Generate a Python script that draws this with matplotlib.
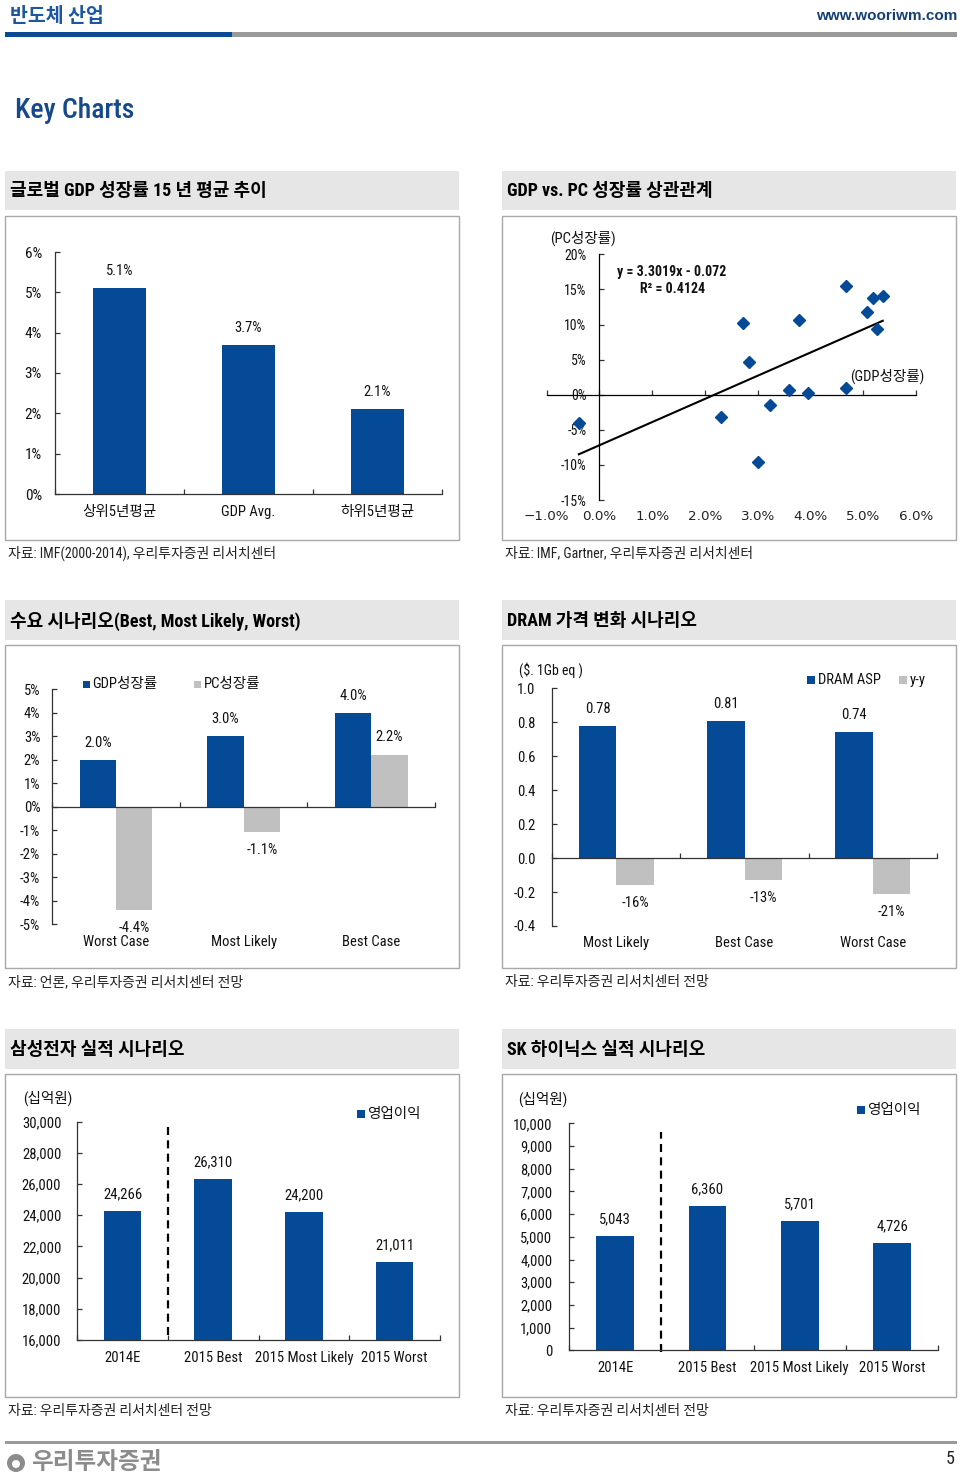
import matplotlib
matplotlib.use('Agg')
import matplotlib.pyplot as plt
from matplotlib import font_manager as fm
from matplotlib.patches import Rectangle, Circle
import numpy as np

# ---------------- data ----------------
gdp_cats = ['상위5년평균', 'GDP Avg.', '하위5년평균']
gdp_vals = [5.1, 3.7, 2.1]

scatter_gdp = [-0.39, 2.31, 2.72, 2.84, 3.01, 3.23, 3.60, 3.78, 3.96, 4.67, 4.68, 5.08, 5.19, 5.37, 5.27]
scatter_pc = [-4.05, -3.24, 10.24, 4.71, -9.57, -1.48, 0.67, 10.71, 0.29, 15.43, 0.95, 11.71, 13.81, 14.05, 9.33]
trend_slope = 3.3019
trend_intercept = -7.2  # in percent

demand_cats = ['Worst Case', 'Most Likely', 'Best Case']
demand_gdp = [2.0, 3.0, 4.0]
demand_pc = [-4.4, -1.1, 2.2]

dram_cats = ['Most Likely', 'Best Case', 'Worst Case']
dram_asp = [0.78, 0.81, 0.74]
dram_yy = [-0.16, -0.13, -0.21]

op_cats = ['2014E', '2015 Best', '2015 Most Likely', '2015 Worst']
samsung_op = [24266, 26310, 24200, 21011]
hynix_op = [5043, 6360, 5701, 4726]

# ---------------- fonts ----------------
avail = {f.name for f in fm.fontManager.ttflist}
def pick(cands):
    for c in cands:
        if c in avail:
            return c
    return 'DejaVu Sans'
NARROW = pick(['Liberation Sans Narrow', 'Roboto Condensed', 'Arial Narrow', 'Liberation Sans'])
KR = 'Noto Sans CJK KR'
F = [NARROW, KR, 'DejaVu Sans']
plt.rcParams['font.family'] = F
plt.rcParams['axes.unicode_minus'] = False

W, H = 960, 1477
BLUE = '#044a97'
GREY = '#c0c0c0'
TXT = '#111111'

fig = plt.figure(figsize=(W / 100, H / 100), dpi=100)
bg = fig.add_axes([0, 0, 1, 1], zorder=-5)
bg.set_xlim(0, W)
bg.set_ylim(H, 0)
bg.axis('off')


def add_ax(x0, y0, x1, y1):
    ax = fig.add_axes([x0 / W, 1 - y1 / H, (x1 - x0) / W, (y1 - y0) / H])
    ax.patch.set_alpha(0)
    for s in ['top', 'right']:
        ax.spines[s].set_visible(False)
    for s in ['left', 'bottom']:
        ax.spines[s].set_color('#333333')
        ax.spines[s].set_linewidth(0.9)
    ax.tick_params(direction='in', length=3.5, width=0.9, color='#333333',
                   labelsize=10.5, labelcolor=TXT)
    return ax


def cat_labels(ax, xs, labels, dy_px, size=10.5):
    for x, l in zip(xs, labels):
        ax.annotate(l, xy=(x, 0), xycoords=('data', 'axes fraction'),
                    xytext=(0, -dy_px * 0.72), textcoords='offset points',
                    ha='center', va='center', size=size, color=TXT)


def bar_labels(ax, xs, vals, texts, dy_px, size=10.5):
    for x, v, t in zip(xs, vals, texts):
        d = dy_px if v >= 0 else -dy_px
        ax.annotate(t, xy=(x, v), xytext=(0, d * 0.72), textcoords='offset points',
                    ha='center', va='center', size=size, color=TXT)


def section(x0, ty0, ty1, by0, by1, title):
    bg.add_patch(Rectangle((x0, ty0), 454, ty1 - ty0, color='#e6e6e6', lw=0))
    bg.text(x0 + 5, (ty0 + ty1) / 2 + 1, title, weight='bold', size=13,
            va='center', ha='left', color='#000000')
    bg.add_patch(Rectangle((x0, by0), 454, by1 - by0, fill=False, ec='#a8a8a8', lw=1))


def source(x, y, s):
    bg.text(x, y, s, size=10, va='center', ha='left', color='#222222')


def legend_item(x, y, color, label, sq=7.5):
    bg.add_patch(Rectangle((x, y - sq / 2), sq, sq, color=color, lw=0))
    bg.text(x + sq + 2.5, y, label, size=10.5, va='center', ha='left', color=TXT)


# ---------------- header ----------------
bg.text(10, 16, '반도체 산업', family=[KR], weight='bold', size=14, color='#1d57a0',
        va='center', ha='left')
bg.text(957, 16, 'www.wooriwm.com', family=['Liberation Sans', 'DejaVu Sans'], weight='bold',
        size=11, color='#153f75', ha='right', va='center')
bg.add_patch(Rectangle((5, 32), 227, 4.5, color='#0b4a92', lw=0))
bg.add_patch(Rectangle((232, 32), 725, 4.5, color='#9a9a9a', lw=0))
bg.text(15, 110, 'Key Charts', size=20, weight='medium', color='#16498c', va='center', ha='left')

# ---------------- sections ----------------
section(5, 171, 210, 216, 540, '글로벌 GDP 성장률 15 년 평균 추이')
section(502, 171, 210, 216, 540, 'GDP vs. PC 성장률 상관관계')
source(8, 553, '자료: IMF(2000-2014), 우리투자증권 리서치센터')
source(505, 553, '자료: IMF, Gartner, 우리투자증권 리서치센터')

section(5, 600, 640, 645, 968, '수요 시나리오(Best, Most Likely, Worst)')
section(502, 600, 640, 645, 968, 'DRAM 가격 변화 시나리오')
source(8, 982, '자료: 언론, 우리투자증권 리서치센터 전망')
source(505, 982, '자료: 우리투자증권 리서치센터 전망')

section(5, 1029, 1069, 1074, 1397, '삼성전자 실적 시나리오')
section(502, 1029, 1069, 1074, 1397, 'SK 하이닉스 실적 시나리오')
source(8, 1411, '자료: 우리투자증권 리서치센터 전망')
source(505, 1411, '자료: 우리투자증권 리서치센터 전망')

# ---------------- chart 1 ----------------
ax1 = add_ax(55, 252, 442, 494)
x1 = np.arange(len(gdp_cats)) + 0.5
ax1.bar(x1, gdp_vals, width=0.41, color=BLUE)
ax1.set_xlim(0, 3)
ax1.set_ylim(0, 6)
ax1.set_yticks(range(0, 7))
ax1.set_yticklabels([f'{v}%' for v in range(0, 7)])
ax1.tick_params(axis='y', pad=9.4, labelsize=11)
ax1.set_xticks(range(0, 4))
ax1.set_xticklabels([])
cat_labels(ax1, x1, gdp_cats, 18)
bar_labels(ax1, x1, gdp_vals, [f'{v}%' for v in gdp_vals], 17)

# ---------------- chart 2 (scatter) ----------------
ax2 = add_ax(546.7, 254.3, 916, 500)
ax2.set_xlim(-1, 6)
ax2.set_ylim(-15, 20)
ax2.spines['left'].set_position(('data', 0))
ax2.spines['bottom'].set_position(('data', 0))
ax2.spines['left'].set_color('#000000')
ax2.spines['bottom'].set_color('#000000')
yt = list(range(-15, 21, 5))
ax2.set_yticks(yt)
ax2.set_yticklabels([f'{v}%' for v in yt])
ax2.tick_params(axis='y', pad=9.4, labelsize=10)
xt = list(range(-1, 7))
ax2.set_xticks(xt)
ax2.set_xticklabels([])
for v in xt:
    ax2.annotate(f'{v:.1f}%'.replace('-', '\u2212'), xy=(v, 0), xycoords=('data', 'axes fraction'),
                 xytext=(0, -16 * 0.72), textcoords='offset points', ha='center', va='center',
                 family=['DejaVu Sans'], size=9.7, color='#222222')
ax2.plot(scatter_gdp, scatter_pc, linestyle='none', marker='D', ms=6.5, color=BLUE, zorder=3)
tx = np.array([min(scatter_gdp), max(scatter_gdp)])
ax2.plot(tx, trend_slope * tx + trend_intercept, color='black', lw=1.5, zorder=2)
bg.text(672, 272, 'y = 3.3019x - 0.072', weight='bold', size=10, ha='center', va='center', color=TXT)
bg.text(673, 289, 'R² = 0.4124', weight='bold', size=10, ha='center', va='center', color=TXT)
bg.text(550, 238, '(PC성장률)', size=10.5, ha='left', va='center', color=TXT)
bg.text(850, 376, '(GDP성장률)', size=10.5, ha='left', va='center', color=TXT)

# ---------------- chart 3 (demand) ----------------
ax3 = add_ax(52.3, 689.3, 435, 924)
x3 = np.arange(len(demand_cats)) + 0.5
bw3 = 0.285
ax3.bar(x3 - bw3 / 2, demand_gdp, width=bw3, color=BLUE)
ax3.bar(x3 + bw3 / 2, demand_pc, width=bw3, color=GREY)
ax3.set_xlim(0, 3)
ax3.set_ylim(-5, 5)
ax3.spines['bottom'].set_position(('data', 0))
yt3 = list(range(-5, 6))
ax3.set_yticks(yt3)
ax3.set_yticklabels([f'{v}%' for v in yt3])
ax3.tick_params(axis='y', pad=8.6)
ax3.set_xticks(range(0, 4))
ax3.set_xticklabels([])
cat_labels(ax3, x3, demand_cats, 18)
bar_labels(ax3, x3 - bw3 / 2, demand_gdp, [f'{v:.1f}%' for v in demand_gdp], 17)
bar_labels(ax3, x3 + bw3 / 2, demand_pc, [f'{v:.1f}%' for v in demand_pc], 18)
legend_item(83, 684, BLUE, 'GDP성장률', sq=7)
legend_item(194, 684, GREY, 'PC성장률', sq=7)

# ---------------- chart 4 (DRAM) ----------------
ax4 = add_ax(552.3, 688.3, 936.7, 926)
x4 = np.arange(len(dram_cats)) + 0.5
bw4 = 0.29
ax4.bar(x4 - bw4 / 2, dram_asp, width=bw4, color=BLUE)
ax4.bar(x4 + bw4 / 2, dram_yy, width=bw4, color=GREY)
ax4.set_xlim(0, 3)
ax4.set_ylim(-0.4, 1.0)
ax4.spines['bottom'].set_position(('data', 0))
yt4 = [-0.4, -0.2, 0.0, 0.2, 0.4, 0.6, 0.8, 1.0]
ax4.set_yticks(yt4)
ax4.set_yticklabels([f'{v:.1f}' for v in yt4])
ax4.tick_params(axis='y', pad=12)
ax4.set_xticks(range(0, 4))
ax4.set_xticklabels([])
cat_labels(ax4, x4, dram_cats, 17)
bar_labels(ax4, x4 - bw4 / 2, dram_asp, [f'{v:.2f}' for v in dram_asp], 17)
bar_labels(ax4, x4 + bw4 / 2, dram_yy, [f'{round(v * 100)}%' for v in dram_yy], 18)
legend_item(807, 680, BLUE, 'DRAM ASP', sq=8)
legend_item(899, 680, GREY, 'y-y', sq=8)
bg.text(519, 670, '($. 1Gb eq )', size=10, ha='left', va='center', color=TXT)

# ---------------- chart 5 (Samsung) ----------------
ax5 = add_ax(77.3, 1121.7, 440, 1340)
x5 = np.arange(len(op_cats)) + 0.5
ax5.bar(x5, samsung_op, width=0.415, color=BLUE)
ax5.set_xlim(0, 4)
ax5.set_ylim(16000, 30000)
yt5 = list(range(16000, 30001, 2000))
ax5.set_yticks(yt5)
ax5.set_yticklabels([f'{v:,}' for v in yt5])
ax5.tick_params(axis='y', pad=11.5)
ax5.set_xticks(range(0, 5))
ax5.set_xticklabels([])
ax5.axvline(1, ymin=(1340 - 1335) / 218.3, ymax=(1340 - 1126.7) / 218.3, color='black',
            lw=1.6, dashes=(3.6, 2.4))
cat_labels(ax5, x5, op_cats, 18)
bar_labels(ax5, x5, samsung_op, [f'{v:,}' for v in samsung_op], 17)
legend_item(357, 1114, BLUE, '영업이익', sq=8)
bg.text(23, 1098, '(십억원)', size=10.5, ha='left', va='center', color=TXT)

# ---------------- chart 6 (Hynix) ----------------
ax6 = add_ax(569, 1123.3, 938.3, 1350.3)
x6 = np.arange(len(op_cats)) + 0.5
ax6.bar(x6, hynix_op, width=0.41, color=BLUE)
ax6.set_xlim(0, 4)
ax6.set_ylim(0, 10000)
yt6 = list(range(0, 10001, 1000))
ax6.set_yticks(yt6)
ax6.set_yticklabels([f'{v:,}' for v in yt6])
ax6.tick_params(axis='y', pad=12)
ax6.set_xticks(range(0, 5))
ax6.set_xticklabels([])
ax6.axvline(1, ymin=(1350.3 - 1352) / 227, ymax=(1350.3 - 1132) / 227, color='black',
            lw=1.6, dashes=(3.6, 2.4), clip_on=False)
cat_labels(ax6, x6, op_cats, 18)
bar_labels(ax6, x6, hynix_op, [f'{v:,}' for v in hynix_op], 17)
legend_item(857, 1110, BLUE, '영업이익', sq=8)
bg.text(518, 1099, '(십억원)', size=10.5, ha='left', va='center', color=TXT)

# ---------------- footer ----------------
bg.add_patch(Rectangle((5, 1441), 952, 3, color='#9a9a9a', lw=0))
bg.add_patch(Circle((16, 1463), 9, color='#8c8c8c', lw=0))
bg.add_patch(Circle((16, 1464), 4, color='white', lw=0))
bg.text(31, 1462, '우리투자증권', family=[KR], weight='bold', size=17, color='#8c8c8c',
        ha='left', va='center')
bg.text(950, 1459, '5', size=13, color='#222222', ha='center', va='center')

fig.savefig('out.png', dpi=100)
